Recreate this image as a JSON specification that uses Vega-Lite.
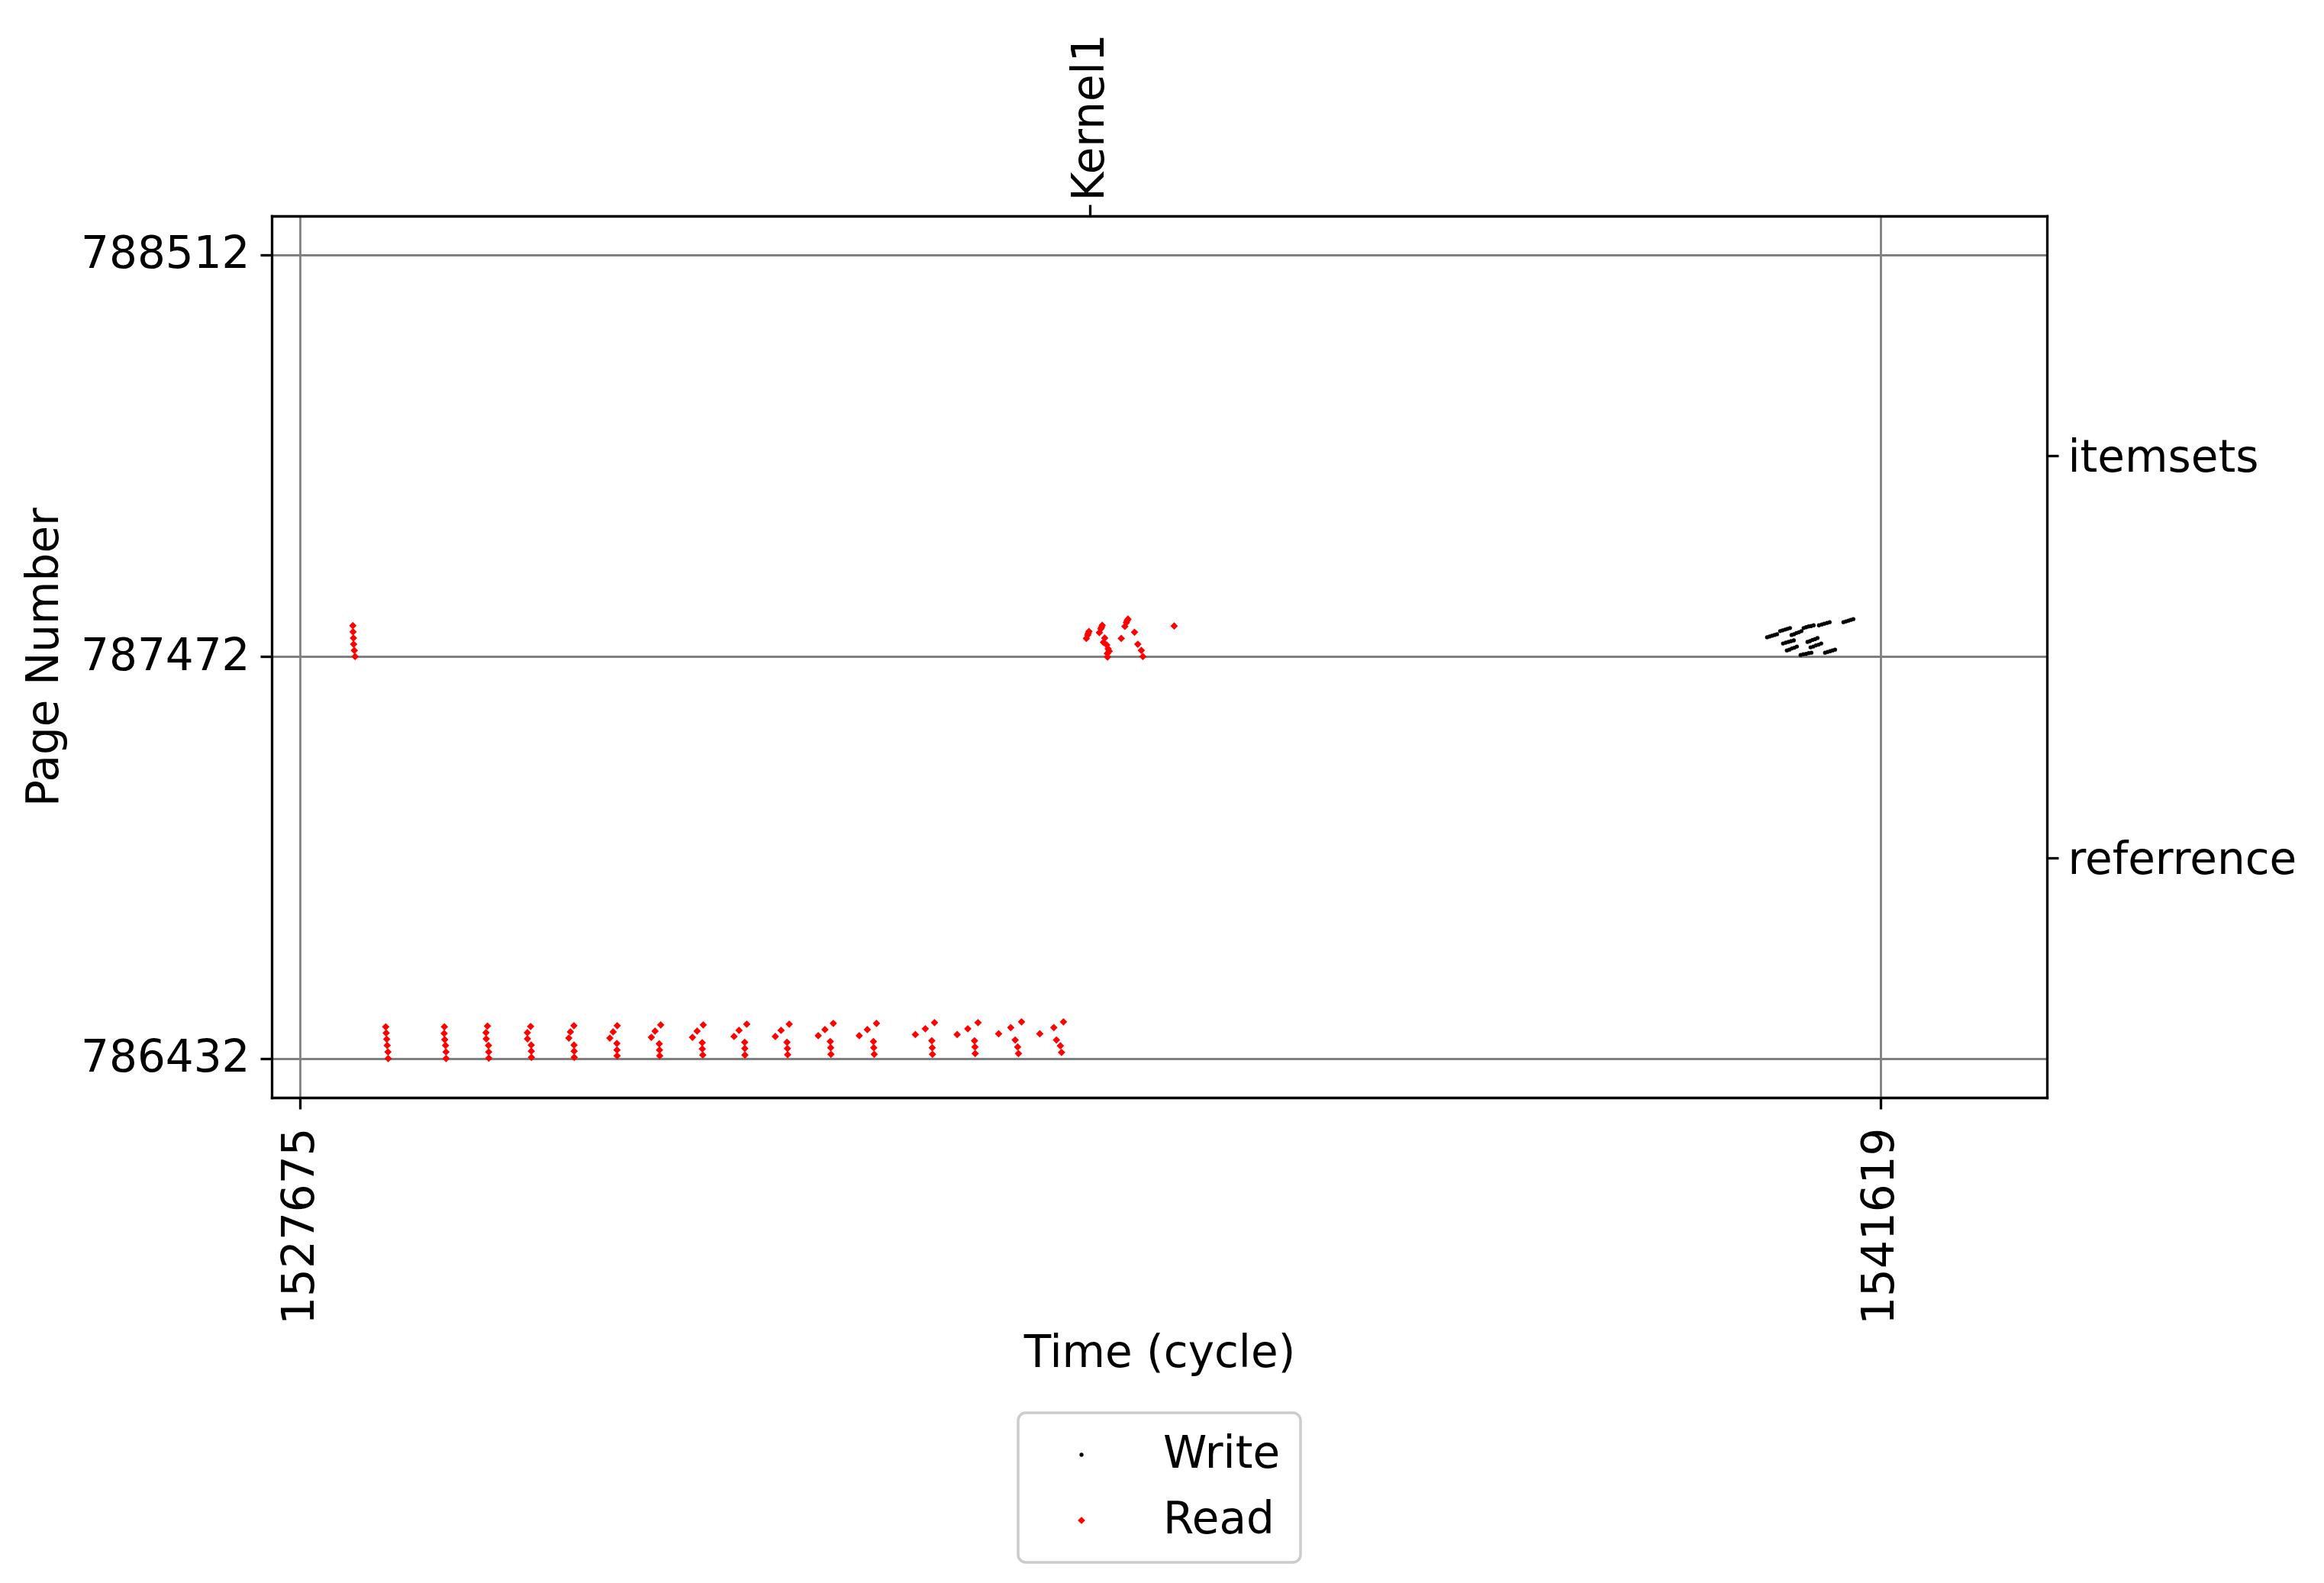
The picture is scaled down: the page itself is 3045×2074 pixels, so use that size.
{
"$schema": "https://vega.github.io/schema/vega-lite/v6.json",
"width": 2326, "height": 1155,
"autosize": {"type": "none"},
"padding": {"left": 356, "top": 283, "right": 363, "bottom": 636},
"background": "white",
"data": {"values": [
{"time":1540620,"page":787522,"op":"Write"},{"time":1540642,"page":787524,"op":"Write"},{"time":1540664,"page":787526,"op":"Write"},{"time":1540686,"page":787528,"op":"Write"},{"time":1540708,"page":787530,"op":"Write"},
{"time":1540735,"page":787538,"op":"Write"},{"time":1540757,"page":787540,"op":"Write"},{"time":1540779,"page":787542,"op":"Write"},{"time":1540800,"page":787544,"op":"Write"},{"time":1540822,"page":787546,"op":"Write"},
{"time":1540836,"page":787528,"op":"Write"},{"time":1540858,"page":787530,"op":"Write"},{"time":1540880,"page":787533,"op":"Write"},{"time":1540901,"page":787535,"op":"Write"},{"time":1540923,"page":787538,"op":"Write"},
{"time":1540943,"page":787546,"op":"Write"},{"time":1540965,"page":787548,"op":"Write"},{"time":1540987,"page":787550,"op":"Write"},{"time":1541009,"page":787551,"op":"Write"},{"time":1541031,"page":787553,"op":"Write"},
{"time":1541078,"page":787553,"op":"Write"},{"time":1541102,"page":787555,"op":"Write"},{"time":1541125,"page":787557,"op":"Write"},{"time":1541149,"page":787559,"op":"Write"},{"time":1541172,"page":787561,"op":"Write"},
{"time":1541294,"page":787561,"op":"Write"},{"time":1541316,"page":787563,"op":"Write"},{"time":1541338,"page":787565,"op":"Write"},{"time":1541359,"page":787567,"op":"Write"},{"time":1541381,"page":787569,"op":"Write"},
{"time":1540761,"page":787506,"op":"Write"},{"time":1540785,"page":787508,"op":"Write"},{"time":1540809,"page":787510,"op":"Write"},{"time":1540832,"page":787512,"op":"Write"},{"time":1540856,"page":787514,"op":"Write"},
{"time":1540977,"page":787510,"op":"Write"},{"time":1540999,"page":787512,"op":"Write"},{"time":1541021,"page":787515,"op":"Write"},{"time":1541043,"page":787517,"op":"Write"},{"time":1541065,"page":787520,"op":"Write"},
{"time":1540795,"page":787488,"op":"Write"},{"time":1540817,"page":787490,"op":"Write"},{"time":1540839,"page":787493,"op":"Write"},{"time":1540861,"page":787495,"op":"Write"},{"time":1540883,"page":787498,"op":"Write"},
{"time":1541004,"page":787496,"op":"Write"},{"time":1541028,"page":787498,"op":"Write"},{"time":1541051,"page":787501,"op":"Write"},{"time":1541075,"page":787503,"op":"Write"},{"time":1541098,"page":787506,"op":"Write"},
{"time":1540916,"page":787476,"op":"Write"},{"time":1540940,"page":787478,"op":"Write"},{"time":1540964,"page":787479,"op":"Write"},{"time":1540987,"page":787481,"op":"Write"},{"time":1541011,"page":787482,"op":"Write"},
{"time":1541132,"page":787482,"op":"Write"},{"time":1541154,"page":787484,"op":"Write"},{"time":1541176,"page":787486,"op":"Write"},{"time":1541198,"page":787488,"op":"Write"},{"time":1541220,"page":787490,"op":"Write"},
{"time":1528140,"page":787552,"op":"Read"},{"time":1528142,"page":787536,"op":"Read"},{"time":1528145,"page":787520,"op":"Read"},{"time":1528147,"page":787504,"op":"Read"},{"time":1528153,"page":787488,"op":"Read"},{"time":1528160,"page":787472,"op":"Read"},
{"time":1528430,"page":786514,"op":"Read"},{"time":1528434,"page":786498,"op":"Read"},{"time":1528439,"page":786482,"op":"Read"},{"time":1528443,"page":786466,"op":"Read"},{"time":1528450,"page":786449,"op":"Read"},{"time":1528452,"page":786432,"op":"Read"},
{"time":1528948,"page":786514,"op":"Read"},{"time":1528946,"page":786497,"op":"Read"},{"time":1528951,"page":786481,"op":"Read"},{"time":1528958,"page":786466,"op":"Read"},{"time":1528962,"page":786449,"op":"Read"},{"time":1528963,"page":786432,"op":"Read"},
{"time":1529328,"page":786516,"op":"Read"},{"time":1529315,"page":786499,"op":"Read"},{"time":1529317,"page":786483,"op":"Read"},{"time":1529337,"page":786466,"op":"Read"},{"time":1529339,"page":786449,"op":"Read"},{"time":1529340,"page":786433,"op":"Read"},
{"time":1529709,"page":786515,"op":"Read"},{"time":1529680,"page":786499,"op":"Read"},{"time":1529681,"page":786483,"op":"Read"},{"time":1529714,"page":786467,"op":"Read"},{"time":1529715,"page":786451,"op":"Read"},{"time":1529716,"page":786435,"op":"Read"},
{"time":1530091,"page":786517,"op":"Read"},{"time":1530060,"page":786501,"op":"Read"},{"time":1530046,"page":786485,"op":"Read"},{"time":1530092,"page":786467,"op":"Read"},{"time":1530093,"page":786451,"op":"Read"},{"time":1530094,"page":786435,"op":"Read"},
{"time":1530473,"page":786517,"op":"Read"},{"time":1530437,"page":786501,"op":"Read"},{"time":1530408,"page":786485,"op":"Read"},{"time":1530470,"page":786471,"op":"Read"},{"time":1530471,"page":786454,"op":"Read"},{"time":1530472,"page":786439,"op":"Read"},
{"time":1530857,"page":786519,"op":"Read"},{"time":1530807,"page":786503,"op":"Read"},{"time":1530774,"page":786487,"op":"Read"},{"time":1530844,"page":786470,"op":"Read"},{"time":1530846,"page":786454,"op":"Read"},{"time":1530848,"page":786439,"op":"Read"},
{"time":1531232,"page":786519,"op":"Read"},{"time":1531178,"page":786503,"op":"Read"},{"time":1531137,"page":786487,"op":"Read"},{"time":1531223,"page":786473,"op":"Read"},{"time":1531224,"page":786457,"op":"Read"},{"time":1531228,"page":786441,"op":"Read"},
{"time":1531504,"page":786489,"op":"Read"},{"time":1531548,"page":786505,"op":"Read"},{"time":1531616,"page":786521,"op":"Read"},{"time":1531598,"page":786474,"op":"Read"},{"time":1531599,"page":786458,"op":"Read"},{"time":1531600,"page":786441,"op":"Read"},
{"time":1531868,"page":786489,"op":"Read"},{"time":1531919,"page":786505,"op":"Read"},{"time":1531991,"page":786521,"op":"Read"},{"time":1531971,"page":786474,"op":"Read"},{"time":1531975,"page":786458,"op":"Read"},{"time":1531977,"page":786442,"op":"Read"},
{"time":1532247,"page":786491,"op":"Read"},{"time":1532306,"page":786507,"op":"Read"},{"time":1532380,"page":786523,"op":"Read"},{"time":1532353,"page":786476,"op":"Read"},{"time":1532357,"page":786460,"op":"Read"},{"time":1532359,"page":786443,"op":"Read"},
{"time":1532609,"page":786491,"op":"Read"},{"time":1532680,"page":786507,"op":"Read"},{"time":1532761,"page":786523,"op":"Read"},{"time":1532734,"page":786476,"op":"Read"},{"time":1532737,"page":786460,"op":"Read"},{"time":1532741,"page":786443,"op":"Read"},
{"time":1533104,"page":786494,"op":"Read"},{"time":1533192,"page":786509,"op":"Read"},{"time":1533273,"page":786525,"op":"Read"},{"time":1533249,"page":786478,"op":"Read"},{"time":1533253,"page":786460,"op":"Read"},{"time":1533255,"page":786443,"op":"Read"},
{"time":1533473,"page":786494,"op":"Read"},{"time":1533567,"page":786509,"op":"Read"},{"time":1533657,"page":786525,"op":"Read"},{"time":1533626,"page":786478,"op":"Read"},{"time":1533630,"page":786462,"op":"Read"},{"time":1533632,"page":786445,"op":"Read"},
{"time":1533839,"page":786496,"op":"Read"},{"time":1533946,"page":786512,"op":"Read"},{"time":1534041,"page":786527,"op":"Read"},{"time":1533985,"page":786480,"op":"Read"},{"time":1534007,"page":786462,"op":"Read"},{"time":1534014,"page":786445,"op":"Read"},
{"time":1534202,"page":786496,"op":"Read"},{"time":1534326,"page":786512,"op":"Read"},{"time":1534411,"page":786527,"op":"Read"},{"time":1534349,"page":786480,"op":"Read"},{"time":1534384,"page":786465,"op":"Read"},{"time":1534394,"page":786448,"op":"Read"},
{"time":1534636,"page":787537,"op":"Read"},{"time":1534630,"page":787532,"op":"Read"},{"time":1534625,"page":787528,"op":"Read"},{"time":1534613,"page":787519,"op":"Read"},
{"time":1534753,"page":787553,"op":"Read"},{"time":1534747,"page":787548,"op":"Read"},{"time":1534741,"page":787544,"op":"Read"},{"time":1534728,"page":787534,"op":"Read"},
{"time":1534775,"page":787520,"op":"Read"},{"time":1534764,"page":787509,"op":"Read"},{"time":1534793,"page":787502,"op":"Read"},{"time":1534805,"page":787492,"op":"Read"},{"time":1534815,"page":787486,"op":"Read"},{"time":1534798,"page":787480,"op":"Read"},{"time":1534800,"page":787471,"op":"Read"},
{"time":1534980,"page":787569,"op":"Read"},{"time":1534973,"page":787565,"op":"Read"},{"time":1534966,"page":787560,"op":"Read"},{"time":1534953,"page":787550,"op":"Read"},
{"time":1534921,"page":787519,"op":"Read"},{"time":1535038,"page":787535,"op":"Read"},{"time":1535067,"page":787504,"op":"Read"},{"time":1535098,"page":787488,"op":"Read"},{"time":1535112,"page":787472,"op":"Read"},{"time":1535388,"page":787551,"op":"Read"}
]},
"layer": [
{
"mark": {"type": "point", "filled": true, "opacity": 1, "strokeWidth": 0},
"encoding": {
"x": {"field": "time", "type": "quantitative",
"scale": {"domain": [1527424, 1543090], "nice": false, "zero": false},
"axis": {"orient": "bottom", "values": [1527675, 1541619], "format": "d", "grid": true,
"labelAngle": -90, "labelAlign": "right", "labelBaseline": "middle", "labelPadding": 24,
"labelFlush": false, "labelOverlap": false,
"title": "Time (cycle)", "titleY": 352, "titleBaseline": "alphabetic"}},
"y": {"field": "page", "type": "quantitative",
"scale": {"domain": [786331, 788612], "nice": false, "zero": false},
"axis": {"orient": "left", "values": [786432, 787472, 788512], "format": "d", "grid": true,
"labelPadding": 14, "labelFlush": false, "labelOverlap": false,
"title": "Page Number", "titleX": -281, "titleY": 577.5, "titleAngle": -90,
"titleAlign": "center", "titleBaseline": "alphabetic"}},
"color": {"field": "op", "type": "nominal",
"scale": {"domain": ["Write", "Read"], "range": ["#000000", "#ff0000"]},
"legend": {"title": null, "orient": "none", "legendX": 978, "legendY": 1568}},
"shape": {"field": "op", "type": "nominal",
"scale": {"domain": ["Write", "Read"], "range": ["circle", "diamond"]},
"legend": {"title": null, "orient": "none", "legendX": 978, "legendY": 1568}},
"size": {"field": "op", "type": "ordinal",
"scale": {"domain": ["Write", "Read"], "range": [28, 95]},
"legend": {"title": null, "orient": "none", "legendX": 978, "legendY": 1568}}
}
},
{
"mark": {"type": "point", "opacity": 0},
"encoding": {
"x": {"field": "time", "type": "quantitative",
"scale": {"domain": [1527424, 1543090], "nice": false, "zero": false},
"axis": {"orient": "top", "values": [1534647], "labelExpr": "'Kernel1'", "grid": false,
"labelAngle": -90, "labelAlign": "left", "labelBaseline": "middle", "labelPadding": 5,
"labelFlush": false, "labelOverlap": false, "title": null}},
"y": {"field": "page", "type": "quantitative",
"scale": {"domain": [786331, 788612], "nice": false, "zero": false},
"axis": {"orient": "right", "values": [786952, 787992],
"labelExpr": "datum.value == 787992 ? 'itemsets' : 'referrence'", "grid": false,
"labelPadding": 12, "labelOffset": 4, "labelFlush": false, "labelOverlap": false, "title": null}}
}
}
],
"resolve": {"axis": {"x": "independent", "y": "independent"}},
"config": {
"view": {"stroke": null},
"font": "DejaVu Sans",
"axis": {"labelFont": "DejaVu Sans", "labelFontSize": 58, "labelColor": "#000000", "labelLimit": 0,
"titleFont": "DejaVu Sans", "titleFontSize": 58, "titleFontWeight": "normal", "titleColor": "#000000",
"tickColor": "#000000", "tickWidth": 3.3, "tickSize": 15,
"domainColor": "#000000", "domainWidth": 3.3, "domainCap": "square",
"gridColor": "#808080", "gridWidth": 2.8, "gridOpacity": 1, "zindex": 1},
"legend": {"labelFont": "DejaVu Sans", "labelFontSize": 58, "labelColor": "#000000", "labelLimit": 0,
"padding": 26, "rowPadding": 28, "symbolOffset": 28, "labelOffset": 78,
"strokeColor": "#cccccc", "strokeWidth": 3.5, "cornerRadius": 10, "fillColor": "#ffffff",
"symbolStrokeWidth": 0}
}
}
